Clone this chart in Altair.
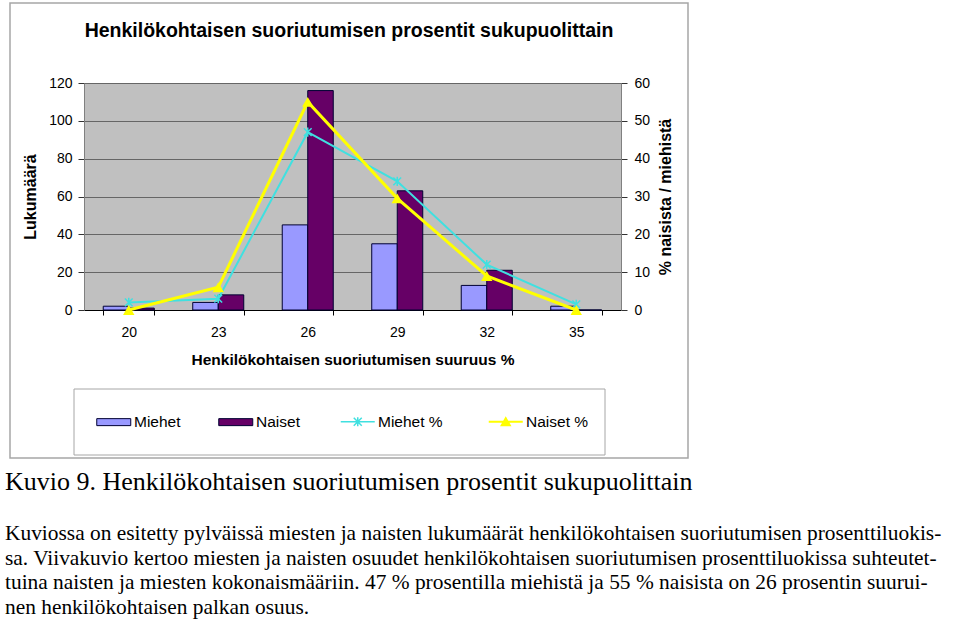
import altair as alt
import pandas as pd

# ---------------- data ----------------
categories = ["20", "23", "26", "29", "32", "35"]
miehet_lkm = [2, 4, 45, 35, 13, 2]
naiset_lkm = [1, 8, 116, 63, 21, 0]
miehet_pct = [2, 3, 47, 34, 12, 1.5]
naiset_pct = [0, 6, 55, 29.5, 9, 0]

bar_series = ["Miehet", "Naiset"]
bar_colors = ["#9999FF", "#660066"]
line_series = ["Miehet %", "Naiset %"]
line_colors = ["#40E0E0", "#FFFF00"]

left_ticks = [0, 20, 40, 60, 80, 100, 120]
right_ticks = [0, 10, 20, 30, 40, 50, 60]

title_text = "Henkilökohtaisen suoriutumisen prosentit sukupuolittain"
x_title = "Henkilökohtaisen suoriutumisen suuruus %"
y_left_title = "Lukumäärä"
y_right_title = "% naisista / miehistä"
caption = "Kuvio 9. Henkilökohtaisen suoriutumisen prosentit sukupuolittain"
paragraph = [
    "Kuviossa on esitetty pylväissä miesten ja naisten lukumäärät henkilökohtaisen suoriutumisen prosenttiluokis-",
    "sa. Viivakuvio kertoo miesten ja naisten osuudet henkilökohtaisen suoriutumisen prosenttiluokissa suhteutet-",
    "tuina naisten ja miesten kokonaismääriin. 47 % prosentilla miehistä ja 55 % naisista on 26 prosentin suurui-",
    "nen henkilökohtaisen palkan osuus.",
]

bars_df = pd.DataFrame({
    "cat": categories * 2,
    "series": [bar_series[0]] * len(categories) + [bar_series[1]] * len(categories),
    "value": miehet_lkm + naiset_lkm,
})
lines_df = pd.DataFrame({
    "cat": categories * 2,
    "series": [line_series[0]] * len(categories) + [line_series[1]] * len(categories),
    "value": miehet_pct + naiset_pct,
})

# ---------------- layout ----------------
W, H = 537, 227
PL, PT = 84, 83
FONT = "Liberation Sans"
SERIF = "Liberation Serif"
LEG_Y = 331

RECT_SYM = "M-1,-0.7L5.8,-0.7L5.8,0.7L-1,0.7Z"
ASTER_SYM = "M-1,0L5.8,0M1.6,-0.8L3.2,0.8M1.6,0.8L3.2,-0.8M2.4,-0.9L2.4,0.9"
TRI_SYM = "M-1,-0.22L5.8,-0.22L5.8,0.22L-1,0.22ZM2.4,-1.1L3.55,0.9L1.25,0.9Z"
ASTER = "M-1,-1L1,1M-1,1L1,-1M0,-1.2L0,1.2"

common_leg = dict(title=None, orient="none", legendY=LEG_Y, direction="horizontal",
                  symbolSize=100, labelOffset=24.5, labelFontSize=15.5, labelFont=FONT,
                  labelColor="black", padding=0, symbolOpacity=1)

x_enc = alt.X(
    "cat:O", sort=categories,
    scale=alt.Scale(paddingInner=0.43, paddingOuter=0.215),
    axis=alt.Axis(title=x_title, titleFontSize=15.5, labelAngle=0, tickSize=5,
                  tickBand="extent", labelPadding=10, titlePadding=13,
                  domainColor="black", tickColor="black", grid=False),
)

bars = alt.Chart(bars_df).mark_bar(stroke="#000033", strokeWidth=1).encode(
    x=x_enc,
    xOffset=alt.XOffset("series:N", sort=bar_series,
                        scale=alt.Scale(paddingInner=0, paddingOuter=0)),
    y=alt.Y("value:Q", scale=alt.Scale(domain=[0, 120], nice=False),
            axis=alt.Axis(values=left_ticks, title=y_left_title, titleFontSize=16,
                          grid=True, gridColor="#666666", tickSize=6, labelPadding=6,
                          titlePadding=10, domainColor="#808080", tickColor="#333333")),
    fill=alt.Fill("series:N", scale=alt.Scale(domain=bar_series, range=bar_colors),
                  legend=alt.Legend(legendX=10, columns=2, columnPadding=35,
                                    symbolType=RECT_SYM, symbolStrokeColor="#000033",
                                    symbolStrokeWidth=1, **common_leg)),
)

y_right = alt.Y("value:Q", scale=alt.Scale(domain=[0, 60], nice=False),
                axis=alt.Axis(orient="right", values=right_ticks, title=y_right_title,
                              titleFontSize=16, titleAngle=270, grid=False, tickSize=6,
                              labelPadding=7, titlePadding=24, domainColor="#808080",
                              tickColor="#333333"))
base = alt.Chart(lines_df).encode(x=x_enc, y=y_right)

m_color = alt.Color("series:N", scale=alt.Scale(domain=[line_series[0]], range=[line_colors[0]]),
                    legend=alt.Legend(legendX=254, symbolType=ASTER_SYM,
                                      symbolStrokeColor=line_colors[0],
                                      symbolFillColor="transparent",
                                      symbolStrokeWidth=1.5, **common_leg))
n_opac = alt.Opacity("series:N", scale=alt.Scale(domain=[line_series[1]], range=[1]),
                     legend=alt.Legend(legendX=402, symbolType=TRI_SYM,
                                       symbolStrokeColor=line_colors[1],
                                       symbolFillColor=line_colors[1],
                                       symbolStrokeWidth=1, **common_leg))

sel_m = alt.datum.series == line_series[0]
sel_n = alt.datum.series == line_series[1]
line_m = base.transform_filter(sel_m).mark_line(strokeWidth=2).encode(color=m_color)
pts_m = base.transform_filter(sel_m).mark_point(
    shape=ASTER, filled=False, size=60, strokeWidth=1.5, opacity=1).encode(color=m_color)
line_n = base.transform_filter(sel_n).mark_line(strokeWidth=3, color=line_colors[1]).encode(opacity=n_opac)
pts_n = base.transform_filter(sel_n).mark_point(
    shape="triangle-up", filled=True, size=130, color=line_colors[1]).encode(opacity=n_opac)
right = alt.layer(line_m, pts_m, line_n, pts_n)

deco = alt.Data(values=[{}])
frame = alt.Chart(deco).mark_rect(fill="transparent", stroke="#A6A6A6", strokeWidth=1.5).encode(
    x=alt.value(10 - PL), x2=alt.value(688 - PL), y=alt.value(3 - PT), y2=alt.value(458 - PT))
legend_box = alt.Chart(deco).mark_rect(fill="transparent", stroke="#A6A6A6", strokeWidth=1).encode(
    x=alt.value(74 - PL), x2=alt.value(605 - PL), y=alt.value(389 - PT), y2=alt.value(455 - PT))
head = alt.Chart(deco).mark_text(text=title_text, align="center", baseline="alphabetic",
                                 font=FONT, fontSize=19.5, fontWeight="bold", color="black").encode(
    x=alt.value(349 - PL), y=alt.value(37 - PT))
cap = alt.Chart(deco).mark_text(text=caption, align="left", baseline="alphabetic",
                                font=SERIF, fontSize=26, color="black").encode(
    x=alt.value(5 - PL), y=alt.value(490 - PT))
para = alt.Chart(deco).mark_text(text=paragraph, align="left", baseline="alphabetic",
                                 font=SERIF, fontSize=21.4, lineHeight=24.5, color="black").encode(
    x=alt.value(5 - PL), y=alt.value(540 - PT))

chart = alt.layer(frame, legend_box, head, bars, right, cap, para).resolve_scale(
    y="independent"
).properties(
    width=W, height=H, background="white",
    padding={"left": PL, "top": PT, "right": 960 - PL - W, "bottom": 619 - PT - H},
    autosize=alt.AutoSizeParams(type="none"),
).configure_view(
    fill="#C0C0C0", stroke="#808080"
).configure_axis(
    labelFont=FONT, labelFontSize=14, labelColor="black",
    titleFont=FONT, titleFontSize=14, titleFontWeight="bold", titleColor="black",
)

chart.save("out.html", embed_options={"renderer": "svg", "actions": False})
